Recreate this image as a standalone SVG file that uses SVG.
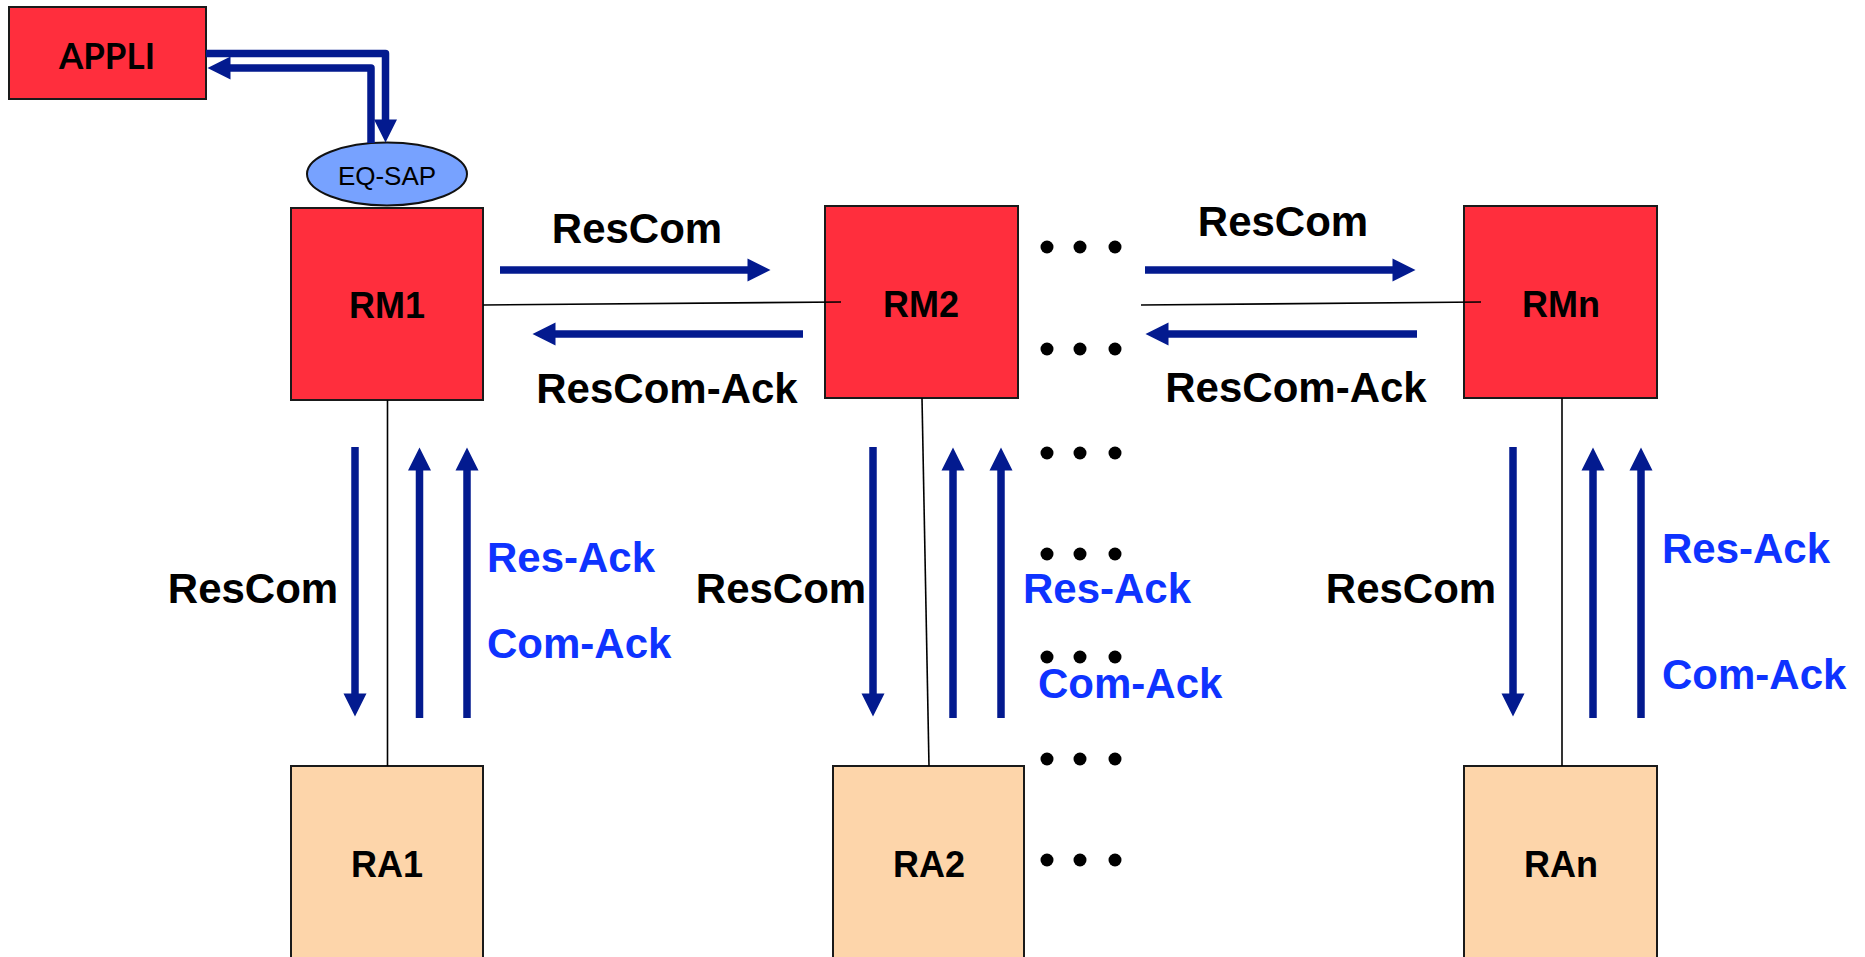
<svg xmlns="http://www.w3.org/2000/svg" width="1865" height="957" viewBox="0 0 1865 957">
  <style>
    .rm { fill: #ff2e3d; stroke: #1a1a1a; stroke-width: 2; }
    .ra { fill: #fdd5aa; stroke: #1a1a1a; stroke-width: 2; }
    .lbl { font-family: "Liberation Sans", Arial, sans-serif; font-weight: bold; font-size: 36px; fill: #000; text-anchor: middle; }
    .msg { font-family: "Liberation Sans", Arial, sans-serif; font-weight: bold; font-size: 42px; fill: #000; }
    .ack { font-family: "Liberation Sans", Arial, sans-serif; font-weight: bold; font-size: 42px; fill: #0e33ff; }
    .flow { fill: none; stroke: #031a8f; stroke-width: 7.5; marker-end: url(#head); }
    .link { fill: none; stroke: #000; stroke-width: 1.6; }
    .dot { fill: #000; }
  </style>
  <defs>
    <marker id="head" markerUnits="userSpaceOnUse" markerWidth="24" markerHeight="24" refX="0.5" refY="11.5" orient="auto" overflow="visible">
      <path d="M0,0 L23,11.5 L0,23 z" fill="#031a8f"/>
    </marker>
  </defs>
  <rect width="1865" height="957" fill="#fff"/>

  <!-- nodes -->
  <g id="appli">
    <rect class="rm" x="9" y="7" width="197" height="92"/>
    <text x="107" y="69" font-family="Lato, 'Open Sans', sans-serif" font-weight="bold" font-size="36" text-anchor="middle" textLength="96" lengthAdjust="spacingAndGlyphs">APPLI</text>
  </g>
  <g id="eq-sap">
    <ellipse cx="387" cy="174" rx="80" ry="31.5" fill="#77a2ff" stroke="#111" stroke-width="2"/>
    <text x="387" y="185" font-family="'Liberation Sans', Arial, sans-serif" font-size="26" text-anchor="middle">EQ-SAP</text>
  </g>
  <g id="rm1">
    <rect class="rm" x="291" y="208" width="192" height="192"/>
    <text class="lbl" x="387" y="318">RM1</text>
  </g>
  <g id="rm2">
    <rect class="rm" x="825" y="206" width="193" height="192"/>
    <text class="lbl" x="921" y="317">RM2</text>
  </g>
  <g id="rmn">
    <rect class="rm" x="1464" y="206" width="193" height="192"/>
    <text class="lbl" x="1561" y="317">RMn</text>
  </g>
  <g id="ra1">
    <rect class="ra" x="291" y="766" width="192" height="200"/>
    <text class="lbl" x="387" y="877">RA1</text>
  </g>
  <g id="ra2">
    <rect class="ra" x="833" y="766" width="191" height="200"/>
    <text class="lbl" x="929" y="877">RA2</text>
  </g>
  <g id="ran">
    <rect class="ra" x="1464" y="766" width="193" height="200"/>
    <text class="lbl" x="1561" y="877">RAn</text>
  </g>

  <!-- thin links between managers and agents -->
  <g id="links">
    <line class="link" x1="483" y1="305" x2="841" y2="302"/>
    <line class="link" x1="1141" y1="305" x2="1481" y2="302"/>
    <line class="link" x1="387.5" y1="400" x2="387.5" y2="766"/>
    <line class="link" x1="922" y1="398" x2="929" y2="766"/>
    <line class="link" x1="1562" y1="398" x2="1562" y2="766"/>
  </g>

  <!-- message flows -->
  <g id="connectors">
    <path class="flow" d="M206,53.5 H385.5 V120" stroke-linejoin="round"/>
    <path class="flow" d="M371,143 V68 H230" stroke-linejoin="round"/>

    <line class="flow" x1="500" y1="270" x2="748" y2="270"/>
    <line class="flow" x1="803" y1="334" x2="555" y2="334"/>
    <line class="flow" x1="1145" y1="270" x2="1393" y2="270"/>
    <line class="flow" x1="1417" y1="334" x2="1168" y2="334"/>

    <line class="flow" x1="355" y1="447" x2="355" y2="694"/>
    <line class="flow" x1="419.5" y1="718" x2="419.5" y2="470"/>
    <line class="flow" x1="467" y1="718" x2="467" y2="470"/>

    <line class="flow" x1="873" y1="447" x2="873" y2="694"/>
    <line class="flow" x1="953" y1="718" x2="953" y2="470"/>
    <line class="flow" x1="1001" y1="718" x2="1001" y2="470"/>

    <line class="flow" x1="1513" y1="447" x2="1513" y2="694"/>
    <line class="flow" x1="1593" y1="718" x2="1593" y2="470"/>
    <line class="flow" x1="1641" y1="718" x2="1641" y2="470"/>
  </g>

  <!-- message labels -->
  <g id="labels">
    <text class="msg" x="637" y="243" text-anchor="middle">ResCom</text>
    <text class="msg" x="667" y="403" text-anchor="middle">ResCom-Ack</text>
    <text class="msg" x="1283" y="236" text-anchor="middle">ResCom</text>
    <text class="msg" x="1296" y="402" text-anchor="middle">ResCom-Ack</text>

    <text class="msg" x="253" y="603" text-anchor="middle">ResCom</text>
    <text class="ack" x="487" y="572">Res-Ack</text>
    <text class="ack" x="487" y="658">Com-Ack</text>

    <text class="msg" x="781" y="603" text-anchor="middle">ResCom</text>
    <text class="ack" x="1023" y="603">Res-Ack</text>
    <text class="ack" x="1038" y="698">Com-Ack</text>

    <text class="msg" x="1411" y="603" text-anchor="middle">ResCom</text>
    <text class="ack" x="1662" y="563">Res-Ack</text>
    <text class="ack" x="1662" y="689">Com-Ack</text>
  </g>

  <!-- ellipsis dots between columns -->
  <g id="ellipsis">
    <circle class="dot" cx="1047" cy="247" r="6.5"/><circle class="dot" cx="1080" cy="247" r="6.5"/><circle class="dot" cx="1115" cy="247" r="6.5"/>
    <circle class="dot" cx="1047" cy="349" r="6.5"/><circle class="dot" cx="1080" cy="349" r="6.5"/><circle class="dot" cx="1115" cy="349" r="6.5"/>
    <circle class="dot" cx="1047" cy="453" r="6.5"/><circle class="dot" cx="1080" cy="453" r="6.5"/><circle class="dot" cx="1115" cy="453" r="6.5"/>
    <circle class="dot" cx="1047" cy="554" r="6.5"/><circle class="dot" cx="1080" cy="554" r="6.5"/><circle class="dot" cx="1115" cy="554" r="6.5"/>
    <circle class="dot" cx="1047" cy="657" r="6.5"/><circle class="dot" cx="1080" cy="657" r="6.5"/><circle class="dot" cx="1115" cy="657" r="6.5"/>
    <circle class="dot" cx="1047" cy="759" r="6.5"/><circle class="dot" cx="1080" cy="759" r="6.5"/><circle class="dot" cx="1115" cy="759" r="6.5"/>
    <circle class="dot" cx="1047" cy="860" r="6.5"/><circle class="dot" cx="1080" cy="860" r="6.5"/><circle class="dot" cx="1115" cy="860" r="6.5"/>
  </g>
</svg>
